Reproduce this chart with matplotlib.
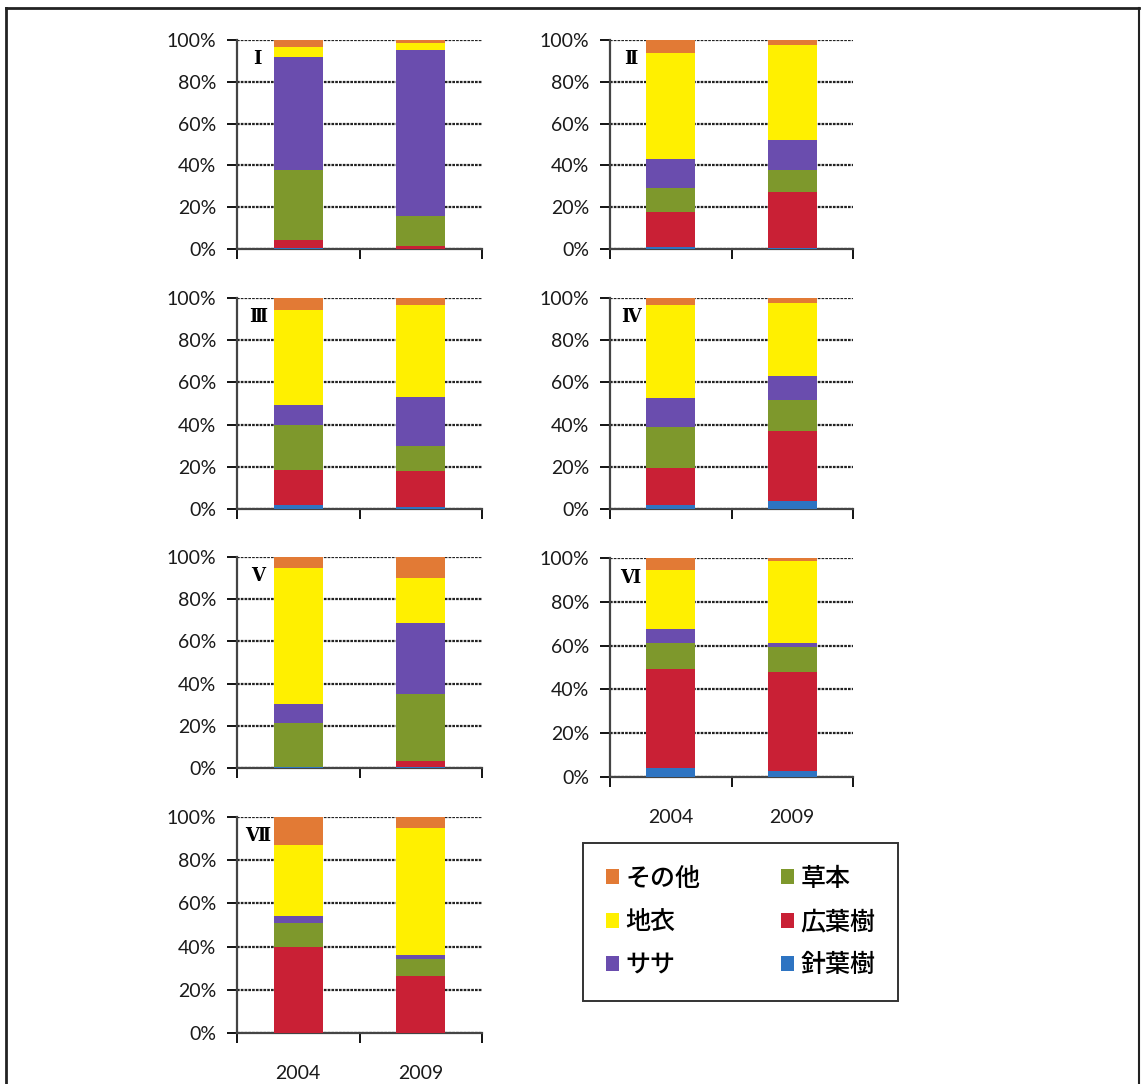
import numpy as np
import matplotlib
matplotlib.use("Agg")
import matplotlib.pyplot as plt
from matplotlib.patches import Patch
from matplotlib.lines import Line2D

# categories (bottom to top of each stack)
categories = ['針葉樹', '広葉樹', '草本', 'ササ', '地衣', 'その他']
colors = ['#2E74C2', '#C92035', '#7E982C', '#6A4DAE', '#FFF000', '#E27A35']
years = ['2004', '2009']
sites = ['Ⅰ', 'Ⅱ', 'Ⅲ', 'Ⅳ', 'Ⅴ', 'Ⅵ', 'Ⅶ']

# percent shares per site: [2004, 2009] for each category
needle = [[0.3, 0.0], [1.0, 0.3], [2.0, 0.8], [1.9, 3.9], [0.5, 0.5], [4.3, 2.6], [0.0, 0.0]]
broad = [[4.0, 1.5], [16.6, 27.0], [16.5, 17.4], [17.5, 33.2], [0.0, 2.7], [44.9, 45.5], [39.7, 26.2]]
herb = [[33.6, 14.5], [11.7, 10.4], [21.3, 11.8], [19.6, 14.6], [20.8, 31.7], [12.2, 11.4], [11.2, 8.1]]
sasa = [[54.0, 79.0], [13.6, 14.4], [9.6, 23.2], [13.4, 11.5], [9.2, 33.7], [6.1, 1.9], [3.1, 1.7]]
lichen = [[4.8, 3.4], [51.0, 45.6], [45.1, 43.3], [44.1, 34.4], [64.3, 21.4], [26.9, 37.4], [32.9, 58.9]]
other = [[3.3, 1.6], [6.1, 2.4], [5.5, 3.5], [3.5, 2.4], [5.2, 10.0], [5.6, 1.2], [13.1, 5.1]]

series = [needle, broad, herb, sasa, lichen, other]

W, H = 1142, 1084
fig = plt.figure(figsize=(W / 100, H / 100), dpi=100)
plt.rcParams['font.family'] = ['Lato', 'DejaVu Sans']

# axes boxes in pixels: left, top(100%), right, bottom(0%)
boxes = [
    (237, 40, 482, 249),
    (610, 40, 853, 249),
    (237, 298, 482, 509),
    (610, 298, 853, 509),
    (237, 557, 482, 768),
    (610, 558, 853, 777),
    (237, 817, 482, 1033),
]

x = np.arange(len(years))
for i, (l, t, r, b) in enumerate(boxes):
    ax = fig.add_axes([l / W, 1 - b / H, (r - l) / W, (b - t) / H])
    bottom = np.zeros(len(years))
    for s, c in zip(series, colors):
        vals = np.array(s[i], dtype=float)
        ax.bar(x, vals, 0.4, bottom=bottom, color=c, zorder=3)
        bottom += vals
    ax.set_xlim(-0.5, 1.5)
    ax.set_ylim(0, 100)
    ax.set_yticks(np.arange(0, 101, 20))
    ax.set_yticklabels([f'{v}%' for v in range(0, 101, 20)], fontsize=14, color='#1a1a1a')
    ax.grid(axis='y', color='#222222', linestyle=(0, (1.2, 0.5)), linewidth=1.6, zorder=0)
    ax.set_xticks([-0.5, 0.5, 1.5])
    ax.set_xticklabels([])
    ax.tick_params(axis='x', direction='out', length=7, width=1.3)
    ax.tick_params(axis='y', direction='out', length=7, width=1.3, pad=8)
    for sp in ['top', 'right']:
        ax.spines[sp].set_visible(False)
    ax.spines['left'].set_color('#444444')
    ax.spines['left'].set_linewidth(1.6)
    ax.spines['bottom'].set_color('#444444')
    ax.spines['bottom'].set_linewidth(1.6)
    ax.text(0.085, 0.91, sites[i], transform=ax.transAxes, fontsize=13,
            family=['DejaVu Serif'], fontweight='bold', ha='center', va='center', zorder=5)
    if i in (5, 6):
        ax.set_xticks([-0.5, 0, 0.5, 1, 1.5])
        ax.set_xticklabels(['', years[0], '', years[1], ''], fontsize=14, color='#1a1a1a')
        ax.tick_params(axis='x', pad=16)
        for tk, ln in zip(ax.xaxis.get_major_ticks(), [7, 0, 7, 0, 7]):
            tk.tick1line.set_markersize(ln)

# legend
handles = [Patch(facecolor=colors[k]) for k in [5, 4, 3, 2, 1, 0]]
labels = [categories[k] for k in [5, 4, 3, 2, 1, 0]]
leg = fig.legend(handles, labels, ncol=2, loc='upper left',
                 bbox_to_anchor=(583 / W, 1 - 843 / H),
                 prop={'family': ['Noto Sans CJK JP'], 'size': 18, 'weight': 'medium'},
                 frameon=True, fancybox=False, edgecolor='black',
                 handlelength=0.55, handleheight=0.55, handletextpad=0.25,
                 columnspacing=3.2, labelspacing=0.7, borderpad=0.9, borderaxespad=0)
leg.get_frame().set_linewidth(1.4)

# outer frame
fig.add_artist(Line2D([6 / W, 6 / W], [0, 1 - 8 / H], transform=fig.transFigure, color='#222222', lw=2))
fig.add_artist(Line2D([6 / W, 1139 / W], [1 - 8 / H, 1 - 8 / H], transform=fig.transFigure, color='#222222', lw=2))
fig.add_artist(Line2D([1139 / W, 1139 / W], [0, 1 - 8 / H], transform=fig.transFigure, color='#222222', lw=1.5))

fig.savefig('out.png', dpi=100)
